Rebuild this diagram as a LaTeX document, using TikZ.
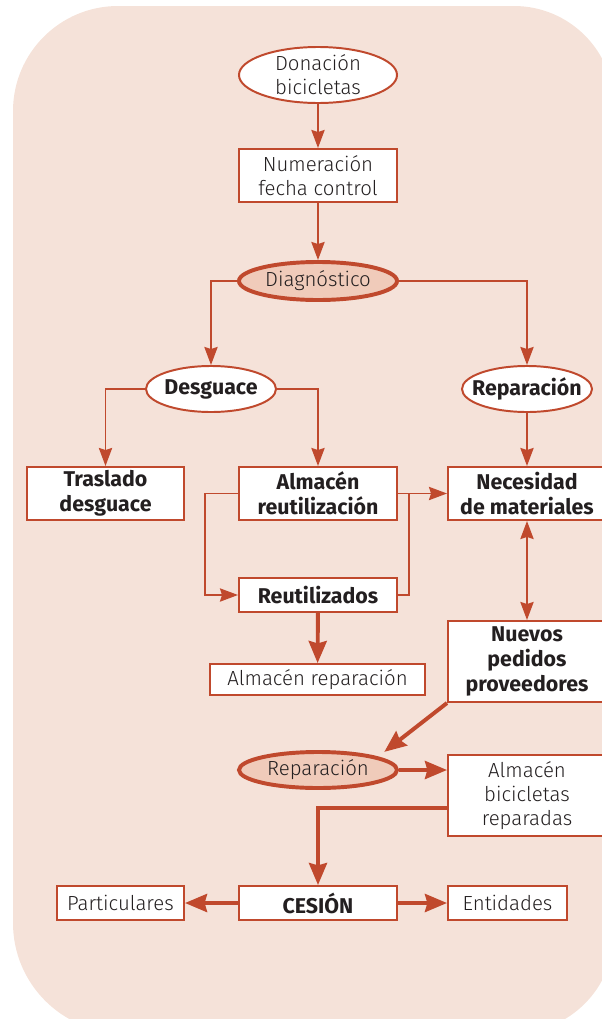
\documentclass[tikz,border=0pt]{standalone}
\usepackage{fontspec}
\setmainfont{Fira Sans Light}[BoldFont={Fira Sans Bold}]
\usetikzlibrary{positioning, arrows.meta, shapes.geometric, calc}
\definecolor{fondocolor}{RGB}{245,226,217}
\definecolor{lineacolor}{RGB}{192,73,45}
\definecolor{rellenocolor}{RGB}{240,203,186}
\definecolor{textocolor}{RGB}{35,31,32}

\begin{document}
\begin{tikzpicture}[x=0.025cm, y=-0.025cm,
    font=\fontsize{14.5}{17}\selectfont,
    caja/.style={rectangle, draw=lineacolor, fill=white, line width=1.4pt, minimum width=3.95cm, minimum height=1.325cm, inner sep=0pt, align=center, text=textocolor},
    elipse/.style={ellipse, draw=lineacolor, fill=white, line width=1.4pt, minimum width=3.95cm, minimum height=1.4cm, inner xsep=0pt, inner ysep=-3pt, align=center, text=textocolor},
    clave/.style={elipse, fill=rellenocolor, line width=2.8pt},
    negrita/.style={font=\fontsize{15.2}{17.6}\selectfont\bfseries},
    flecha/.style={-{Stealth[length=0.45cm, width=0.33cm, inset=0.05cm]}, draw=lineacolor, line width=1.4pt},
    doble/.style={{Stealth[length=0.45cm, width=0.33cm, inset=0.05cm]}-{Stealth[length=0.45cm, width=0.33cm, inset=0.05cm]}, draw=lineacolor, line width=1.4pt},
    linea/.style={draw=lineacolor, line width=1.4pt},
    gruesa/.style={-{Stealth[length=0.55cm, width=0.45cm, inset=0.06cm]}, draw=lineacolor, line width=2.8pt}
]
    \useasboundingbox (0,0) rectangle (602,1019);

    % === FONDO ===
    \fill[fondocolor] (13,560) [rounded corners=2.625cm] -- (13,6) -- (300,6)
        [rounded corners=2.5cm] -- (614,6) -- (614,1033) -- (300,1033)
        [rounded corners=2.75cm] -- (13,1033) -- cycle;

    % === ENTRADA ===
    \node[elipse] (donacion) at (318,75) {Donación\\bicicletas};
    \node[caja] (numeracion) at (318,175.5) {Numeración\\fecha control};
    \node[clave, minimum height=0.95cm] (diagnostico) at (318,281) {Diagnóstico};

    % === RAMAS ===
    \node[elipse, negrita, minimum width=3.25cm, minimum height=1.15cm, inner xsep=-0.25cm] (desguace) at (211,389) {Desguace};
    \node[elipse, negrita, minimum width=3.25cm, minimum height=1.15cm, inner xsep=-0.25cm] (reparacion) at (527,389) {Reparación};

    % === ALMACENES ===
    \node[caja, negrita, minimum width=3.925cm] (traslado) at (105.5,493.5) {Traslado\\desguace};
    \node[caja, negrita] (almacen) at (318,493.5) {Almacén\\reutilización};
    \node[caja, negrita] (necesidad) at (527,493.5) {Necesidad\\de materiales};
    \node[caja, negrita, minimum height=0.85cm] (reutilizados) at (318,595) {Reutilizados};
    \node[caja, minimum width=5.375cm, minimum height=0.775cm] (almrep) at (317.5,679.5) {Almacén reparación};
    \node[caja, negrita, minimum height=2.025cm] (pedidos) at (527,661.5) {Nuevos\\pedidos\\proveedores};

    % === REPARACIÓN Y CESIÓN ===
    \node[clave, minimum height=0.9cm] (reparada) at (318,770) {Reparación};
    \node[caja, minimum height=2.025cm] (almbici) at (527,795.5) {Almacén\\bicicletas\\reparadas};
    \node[caja, negrita, minimum height=0.85cm] (cesion) at (318,903) {CESIÓN};
    \node[caja, minimum width=3.175cm, minimum height=0.85cm] (particulares) at (120.5,903) {Particulares};
    \node[caja, minimum width=2.975cm, minimum height=0.85cm] (entidades) at (507.5,903) {Entidades};

    % === FLECHAS ===
    \draw[flecha] (donacion) -- (numeracion);
    \draw[flecha] (numeracion) -- (diagnostico);
    \draw[flecha] (diagnostico.west) -| (desguace.north);
    \draw[flecha] (diagnostico.east) -| (reparacion.north);
    \draw[flecha] (desguace.west) -| (traslado.north);
    \draw[flecha] (desguace.east) -| (almacen.north);
    \draw[flecha] (reparacion) -- (necesidad);
    \draw[flecha] (almacen.west) -- ++(-33,0) |- (reutilizados.west);
    \draw[flecha] (almacen.east) -- (necesidad.west);
    \coordinate (union) at (409,493.5);
    \draw[linea] (reutilizados.east) -| (union);
    \draw[doble] (necesidad) -- (pedidos);

    % flechas gruesas
    \draw[gruesa] (reutilizados) -- (almrep);
    \draw[gruesa] (pedidos.south west) -- ($(reparada.north east)+(9,-4)$);
    \draw[gruesa] (reparada) -- (reparada -| almbici.west);
    \draw[gruesa] ($(almbici.west)+(0,12.5)$) -| (cesion.north);
    \draw[gruesa] (cesion) -- (particulares);
    \draw[gruesa] (cesion) -- (entidades);

\end{tikzpicture}
\end{document}
